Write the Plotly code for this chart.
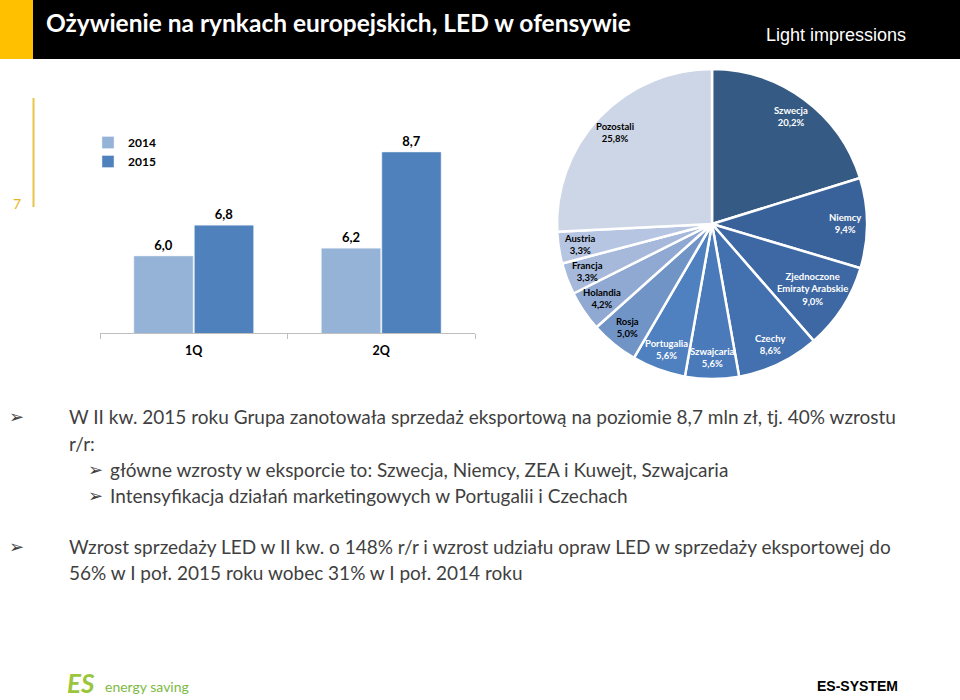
import math
import plotly.graph_objects as go

# ---------------- data ----------------
quarters = ["1Q", "2Q"]
sales_2014 = [6.0, 6.2]
sales_2015 = [6.8, 8.7]

countries = ["Szwecja", "Niemcy", "Zjednoczone<br>Emiraty Arabskie", "Czechy",
             "Szwajcaria", "Portugalia", "Rosja", "Holandia", "Francja",
             "Austria", "Pozostali"]
shares = [20.2, 9.4, 9.0, 8.6, 5.6, 5.6, 5.0, 4.2, 3.3, 3.3, 25.8]

# ---------------- styles ----------------
W, H = 960, 700
slice_colors = ["#355A83", "#3A629A", "#3D68A4", "#4370AE", "#4A7ABA",
                "#4F80BF", "#7194C7", "#90A9D2", "#A6B9DB", "#B6C6E2", "#CDD6E6"]
label_colors = ["white"] * 6 + ["black"] * 5
FONT = "Lato, 'Open Sans', 'DejaVu Sans', sans-serif"
TXT = "#3F3F3F"


def px(x):
    return x / W


def py(y):
    return 1 - y / H


fig = go.Figure()

# bar chart
for name, vals, col in [("2014", sales_2014, "#95B3D7"), ("2015", sales_2015, "#4F81BD")]:
    fig.add_trace(go.Bar(x=quarters, y=vals, name=name, marker_color=col,
                         text=vals, texttemplate="%{y:.1f}", textposition="outside",
                         cliponaxis=False,
                         textfont=dict(family=FONT, size=13, color="black", weight="bold"),
                         xaxis="x", yaxis="y"))

# pie chart
pie_x = [px(557), px(867)]
pie_y = [py(379), py(69)]
fig.add_trace(go.Pie(labels=countries, values=shares, sort=False, direction="clockwise",
                     rotation=0, textinfo="none", showlegend=False,
                     marker=dict(colors=slice_colors, line=dict(color="white", width=2.5)),
                     domain=dict(x=pie_x, y=pie_y)))

annotations = []
# pie labels computed from the data (inside-end style)
cx = (pie_x[0] + pie_x[1]) / 2 * W
cy = (1 - (pie_y[0] + pie_y[1]) / 2) * H
R = (pie_x[1] - pie_x[0]) * W / 2
total = sum(shares)
cum = 0.0
for name, val, col in zip(countries, shares, label_colors):
    mid = (cum + val / 2) / total * 2 * math.pi
    cum += val
    lines = name.count("<br>") + 2
    r = R * (0.86 if lines == 2 else 0.77)
    x = cx + r * math.sin(mid)
    y = cy - r * math.cos(mid)
    pct = f"{val:.1f}".replace(".", ",") + "%"
    annotations.append(dict(x=px(x), y=py(y), xref="paper", yref="paper",
                            text=f"{name}<br>{pct}", showarrow=False,
                            xanchor="center", yanchor="middle", align="center",
                            font=dict(family=FONT, size=9.5, color=col, weight="bold")))

# header
shapes = [
    dict(type="rect", xref="paper", yref="paper", x0=0, x1=px(33), y0=py(59), y1=1,
         fillcolor="#FFC000", line_width=0, layer="below"),
    dict(type="rect", xref="paper", yref="paper", x0=px(33), x1=1, y0=py(59), y1=1,
         fillcolor="black", line_width=0, layer="below"),
    dict(type="line", xref="paper", yref="paper", x0=px(33.5), x1=px(33.5),
         y0=py(207), y1=py(98), line=dict(color="#E8C547", width=2)),
]
annotations.append(dict(x=px(44), y=py(23), xref="paper", yref="paper", showarrow=False,
                        xanchor="left", yanchor="middle",
                        text="Ożywienie na rynkach europejskich, LED w ofensywie",
                        font=dict(family=FONT, size=24.5, color="white", weight="bold")))
annotations.append(dict(x=px(764), y=py(35), xref="paper", yref="paper", showarrow=False,
                        xanchor="left", yanchor="middle", text="Light impressions",
                        font=dict(family="'Liberation Sans Narrow', 'Liberation Sans', Arial",
                                  size=18, color="white")))
annotations.append(dict(x=px(17), y=py(204), xref="paper", yref="paper", showarrow=False,
                        xanchor="center", yanchor="middle", text="7",
                        font=dict(family=FONT, size=14, color="#E6B422")))

# bullet text
bullets = [
    (7, 67, 416, "W II kw. 2015 roku Grupa zanotowała sprzedaż eksportową na poziomie 8,7 mln zł, tj. 40% wzrostu"),
    (None, 67, 443, "r/r:"),
    (86, 108, 469, "główne wzrosty w eksporcie to: Szwecja, Niemcy, ZEA i Kuwejt, Szwajcaria"),
    (86, 108, 495, "Intensyfikacja działań marketingowych w Portugalii i Czechach"),
    (7, 67, 546, "Wzrost sprzedaży LED w II kw. o 148% r/r i wzrost udziału opraw LED w sprzedaży eksportowej do"),
    (None, 67, 572, "56% w I poł. 2015 roku wobec 31% w I poł. 2014 roku"),
]
for bx, tx, ty, t in bullets:
    if bx is not None:
        annotations.append(dict(x=px(bx), y=py(ty), xref="paper", yref="paper",
                                showarrow=False, xanchor="left", yanchor="middle",
                                text="➢", font=dict(family="DejaVu Sans", size=18, color=TXT)))
    annotations.append(dict(x=px(tx), y=py(ty), xref="paper", yref="paper",
                            showarrow=False, xanchor="left", yanchor="middle",
                            text=t, font=dict(family=FONT, size=19, color=TXT)))

# footer
annotations.append(dict(x=px(65), y=py(683), xref="paper", yref="paper", showarrow=False,
                        xanchor="left", yanchor="middle", text="<i>ES</i>",
                        font=dict(family=FONT, size=26, color="#9BC53D", weight="bold")))
annotations.append(dict(x=px(103), y=py(686), xref="paper", yref="paper", showarrow=False,
                        xanchor="left", yanchor="middle", text="energy saving",
                        font=dict(family=FONT, size=14, color="#7DBA43")))
annotations.append(dict(x=px(900), y=py(686), xref="paper", yref="paper", showarrow=False,
                        xanchor="right", yanchor="middle", text="ES-SYSTEM",
                        font=dict(family="'Liberation Sans', Arial", size=14, color="black",
                                  weight="bold")))

fig.update_layout(
    width=W, height=H, autosize=False,
    margin=dict(l=0, r=0, t=0, b=0),
    paper_bgcolor="white", plot_bgcolor="white",
    separators=", ",
    barmode="group", bargap=0.355, bargroupgap=0.02,
    xaxis=dict(domain=[px(100), px(475)], showline=True, linecolor="#BFBFBF",
               linewidth=1, ticks="outside", tickson="boundaries", ticklen=5,
               tickcolor="#BFBFBF", showgrid=False, fixedrange=True,
               ticklabelstandoff=6,
               tickfont=dict(family=FONT, size=12.5, color="black", weight="bold")),
    yaxis=dict(domain=[py(333), py(100)], range=[4, 10.05], visible=False,
               showgrid=False, fixedrange=True),
    legend=dict(x=px(88), y=py(128), xanchor="left", yanchor="top",
                font=dict(family=FONT, size=12, color="black", weight="bold"),
                bgcolor="rgba(0,0,0,0)", itemclick=False, tracegroupgap=0),
    shapes=shapes,
    annotations=annotations,
    font=dict(family=FONT),
)

fig.write_html("out.html", config={"displayModeBar": False},
               post_script="document.body.style.margin='0';document.body.style.overflow='hidden';")
